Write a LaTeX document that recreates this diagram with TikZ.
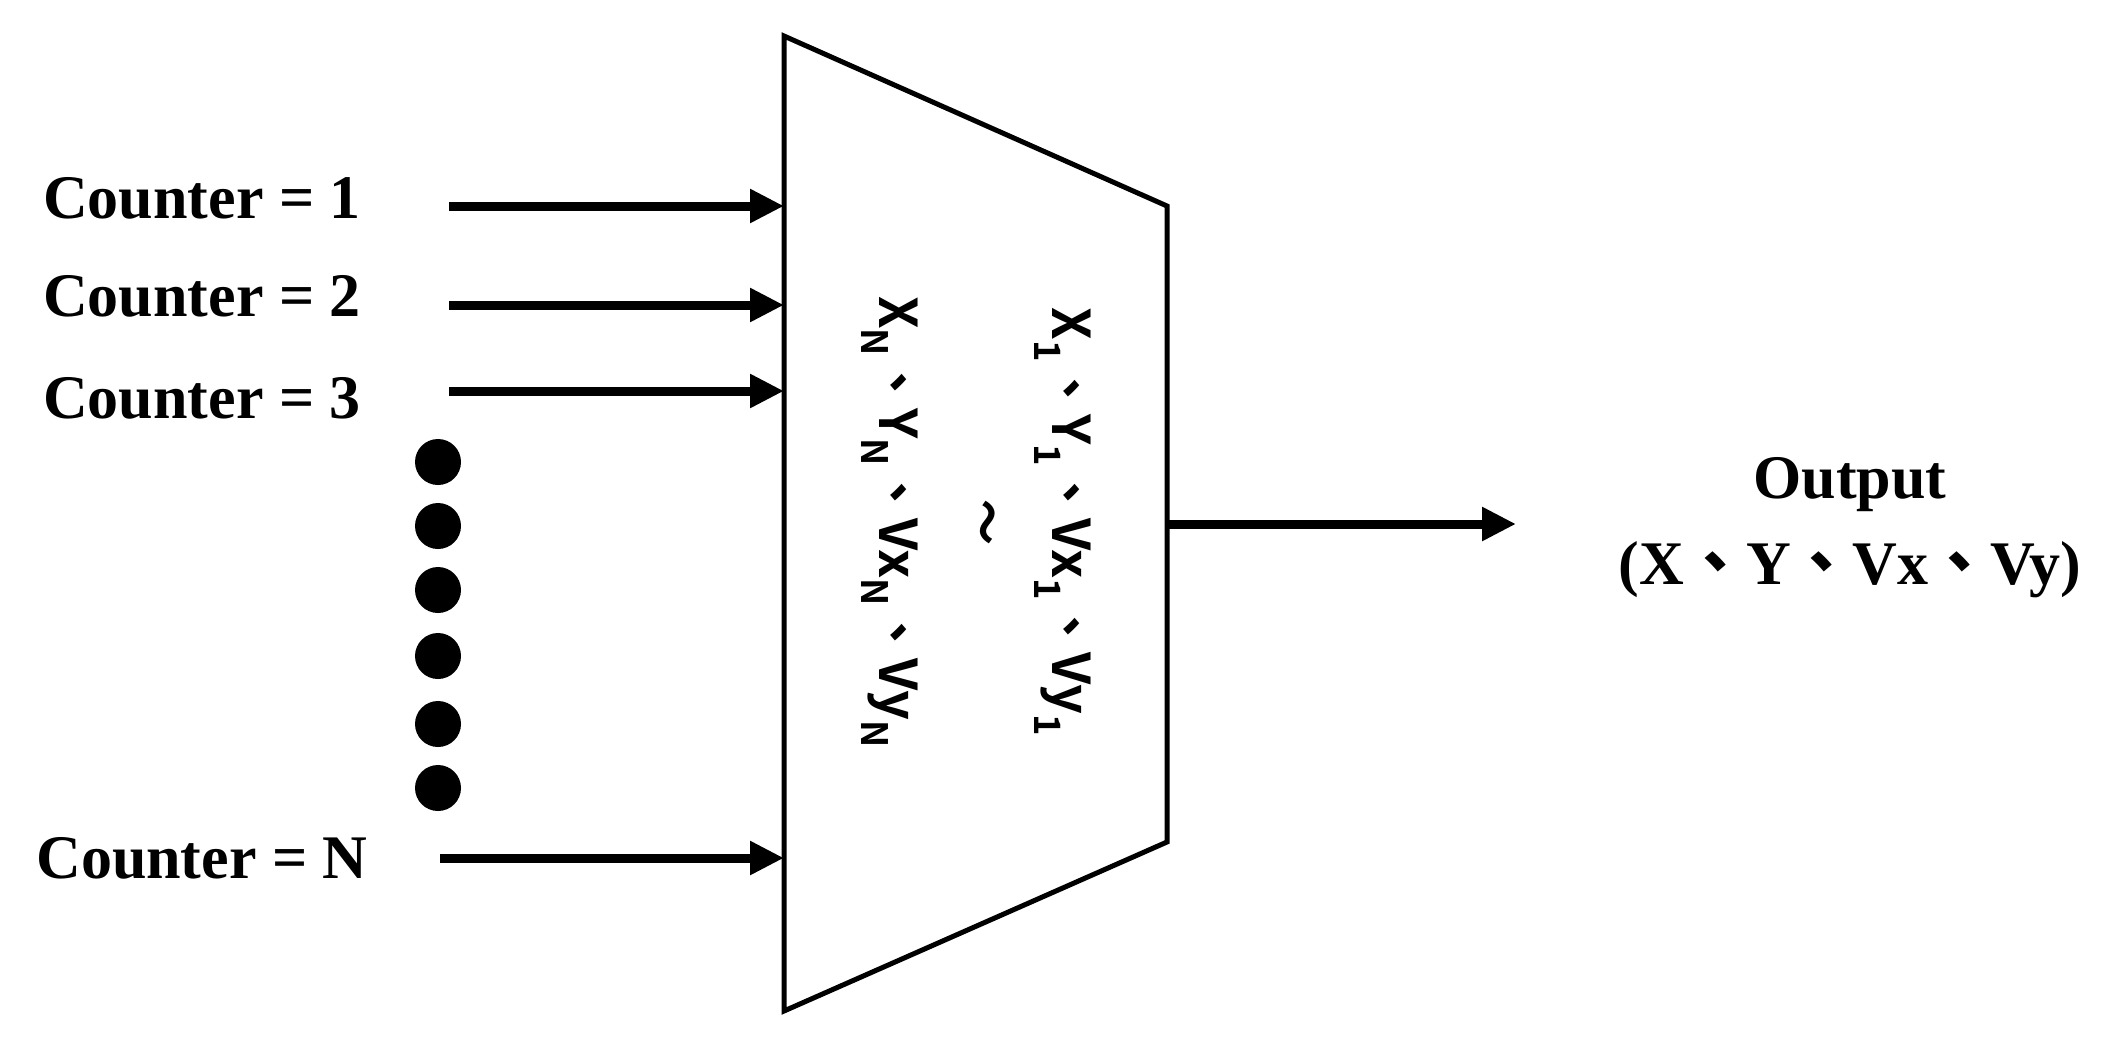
\documentclass[tikz,border=0pt]{standalone}
\usepackage{fontspec}
\setmainfont{Liberation Serif}
\newfontfamily\cjk{Noto Sans CJK TC}
\newfontfamily\cjkb{Noto Sans CJK TC Bold}
\usetikzlibrary{arrows.meta}
\tikzset{
  conn/.style={line width=9pt,-{Triangle[length=34pt,width=32pt]}},
  lbl/.style={font=\fontsize{62}{66}\selectfont\bfseries},
  dotc/.style={circle,fill=black,minimum size=46pt,inner sep=0pt},
  mtext/.style={font=\cjkb\fontsize{52}{56}\selectfont,rotate=-90}
}
\begin{document}
\begin{tikzpicture}[x=1pt,y=-1pt]
\useasboundingbox (0,0) rectangle (2113,1039);
\draw[line width=5pt,line join=miter] (784,36) -- (1167,206) -- (1167,842) -- (784,1011) -- cycle;
\coordinate (i1) at (784,206); \coordinate (i2) at (784,305);
\coordinate (i3) at (784,391); \coordinate (iN) at (784,858);
\coordinate (s1) at (449,206); \coordinate (s2) at (449,305);
\coordinate (s3) at (449,391); \coordinate (sN) at (440,858);
\coordinate (o0) at (1167,524); \coordinate (o1) at (1516,524);
\draw[conn] (s1) -- (i1); \draw[conn] (s2) -- (i2);
\draw[conn] (s3) -- (i3); \draw[conn] (sN) -- (iN);
\draw[conn] (o0) -- (o1);
\node[lbl] (c1) at (202,198) {Counter = 1};
\node[lbl] (c2) at (202,296) {Counter = 2};
\node[lbl] (c3) at (202,398) {Counter = 3};
\node[lbl] (cN) at (202,858) {Counter = N};
\foreach \y/\n in {462/d1,526/d2,590/d3,656/d4,724/d5,788/d6} \node[dotc] (\n) at (438,\y) {};
\node[lbl] (out) at (1850,485) {Output};
\node[lbl] (outv) at (1850,570) {(X{\cjk 、}Y{\cjk 、}Vx{\cjk 、}Vy)};
\node[mtext] (r1) at (1063,522) {X\textsubscript{1}、Y\textsubscript{1}、Vx\textsubscript{1}、Vy\textsubscript{1}};
\node[font=\cjk\fontsize{90}{94}\selectfont,rotate=-90] (tl) at (975,522) {\char"007E};
\node[mtext] (rN) at (890,522) {X\textsubscript{N}、Y\textsubscript{N}、Vx\textsubscript{N}、Vy\textsubscript{N}};
\end{tikzpicture}
\end{document}
